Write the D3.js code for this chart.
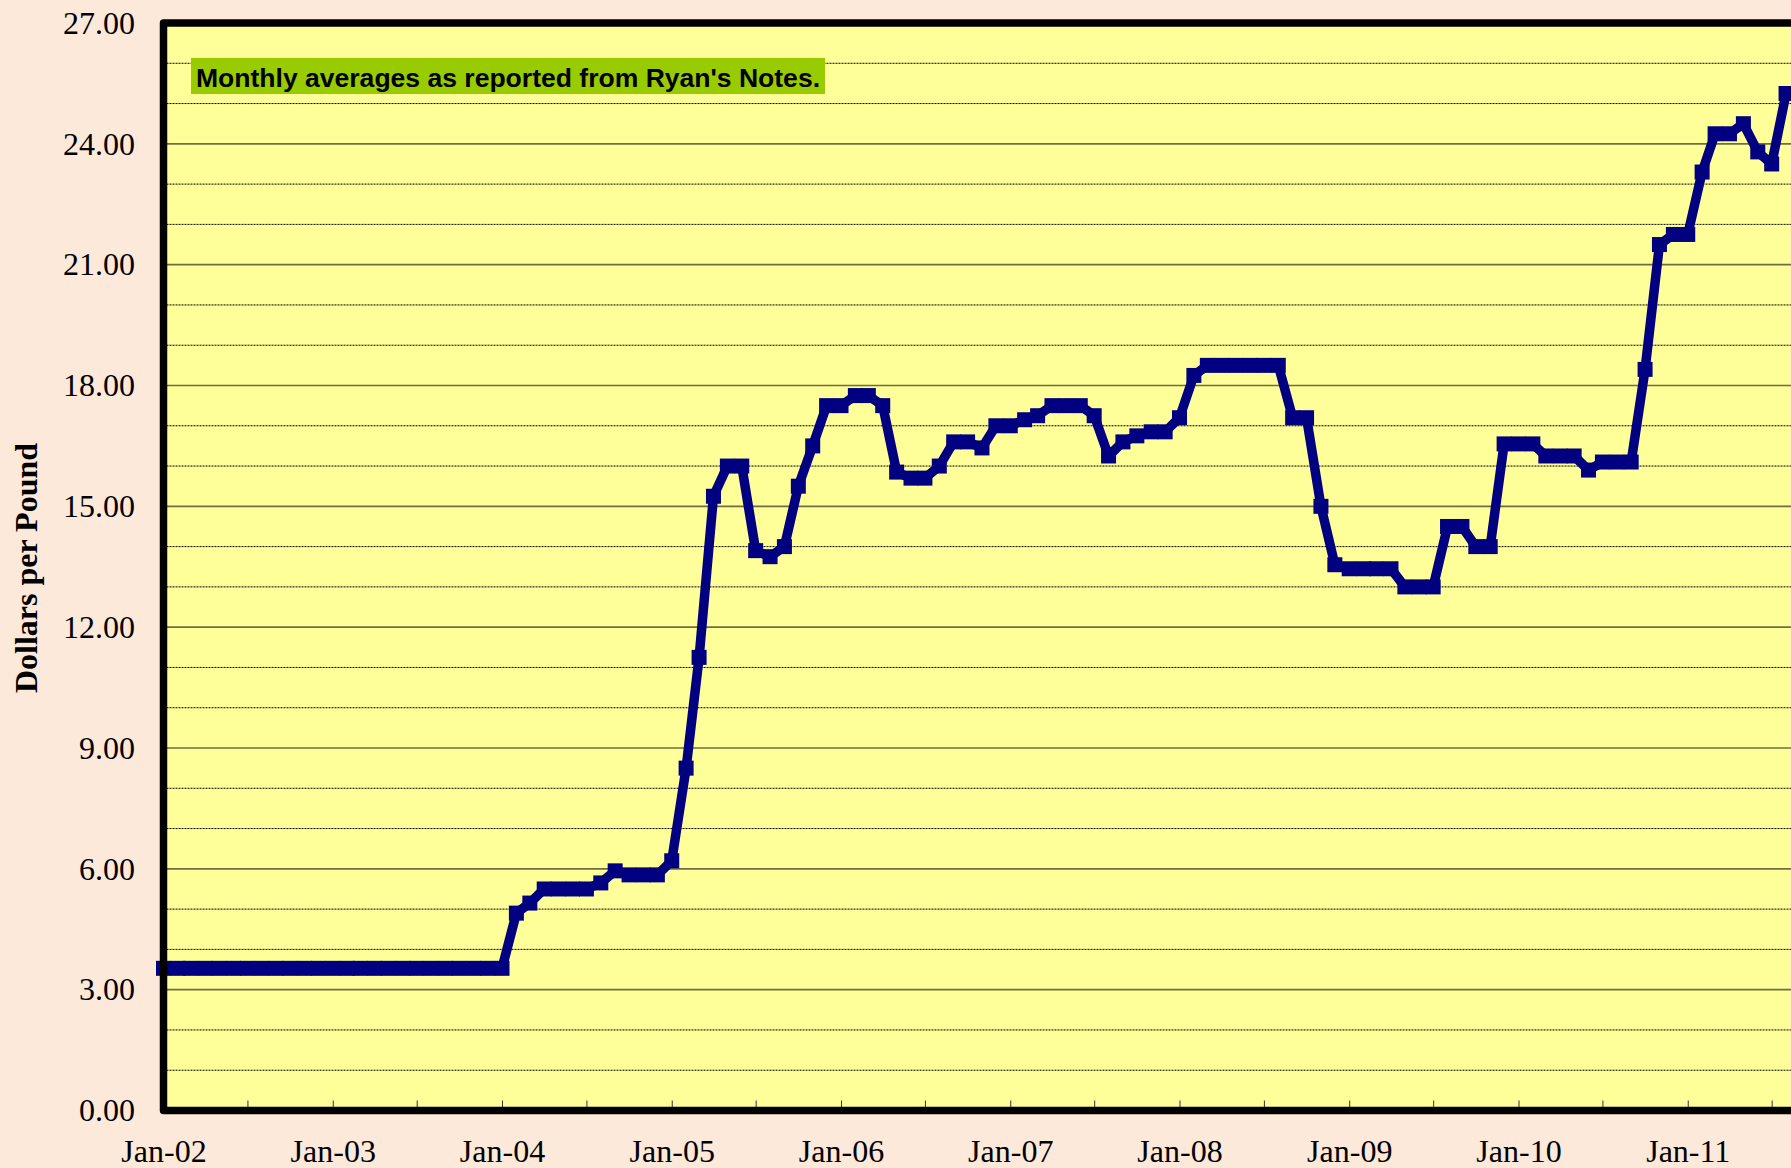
<!DOCTYPE html>
<html>
<head>
<meta charset="utf-8">
<script src="https://cdn.jsdelivr.net/npm/d3@7"></script>
<style>
  html, body { margin: 0; padding: 0; background: #FDE9D9; }
  svg { display: block; }
</style>
</head>
<body>
<div id="chart_div"></div>
<script>
// months (first of month), Jan-02 through Aug-11
var months = [
  "2002-01","2002-02","2002-03","2002-04","2002-05","2002-06","2002-07","2002-08","2002-09","2002-10","2002-11","2002-12",
  "2003-01","2003-02","2003-03","2003-04","2003-05","2003-06","2003-07","2003-08","2003-09","2003-10","2003-11","2003-12",
  "2004-01","2004-02","2004-03","2004-04","2004-05","2004-06","2004-07","2004-08","2004-09","2004-10","2004-11","2004-12",
  "2005-01","2005-02","2005-03","2005-04","2005-05","2005-06","2005-07","2005-08","2005-09","2005-10","2005-11","2005-12",
  "2006-01","2006-02","2006-03","2006-04","2006-05","2006-06","2006-07","2006-08","2006-09","2006-10","2006-11","2006-12",
  "2007-01","2007-02","2007-03","2007-04","2007-05","2007-06","2007-07","2007-08","2007-09","2007-10","2007-11","2007-12",
  "2008-01","2008-02","2008-03","2008-04","2008-05","2008-06","2008-07","2008-08","2008-09","2008-10","2008-11","2008-12",
  "2009-01","2009-02","2009-03","2009-04","2009-05","2009-06","2009-07","2009-08","2009-09","2009-10","2009-11","2009-12",
  "2010-01","2010-02","2010-03","2010-04","2010-05","2010-06","2010-07","2010-08","2010-09","2010-10","2010-11","2010-12",
  "2011-01","2011-02","2011-03","2011-04","2011-05","2011-06","2011-07","2011-08"
];

// dollars per pound, monthly averages
var prices = [
  3.53, 3.53, 3.53, 3.53, 3.53, 3.53, 3.53, 3.53, 3.53, 3.53, 3.53, 3.53,
  3.53, 3.53, 3.53, 3.53, 3.53, 3.53, 3.53, 3.53, 3.53, 3.53, 3.53, 3.53,
  3.53, 4.90, 5.15, 5.50, 5.50, 5.50, 5.50, 5.65, 5.95, 5.85, 5.85, 5.85,
  6.20, 8.50, 11.25, 15.25, 16.00, 16.00, 13.90, 13.75, 14.00, 15.50, 16.50, 17.50,
  17.50, 17.75, 17.75, 17.50, 15.85, 15.70, 15.70, 16.00, 16.60, 16.60, 16.45, 17.00,
  17.00, 17.15, 17.25, 17.50, 17.50, 17.50, 17.25, 16.25, 16.60, 16.75, 16.85, 16.85,
  17.20, 18.25, 18.50, 18.50, 18.50, 18.50, 18.50, 18.50, 17.20, 17.20, 15.00, 13.55,
  13.45, 13.45, 13.45, 13.45, 13.00, 13.00, 13.00, 14.50, 14.50, 14.00, 14.00, 16.55,
  16.55, 16.55, 16.25, 16.25, 16.25, 15.90, 16.10, 16.10, 16.10, 18.40, 21.50, 21.75,
  21.75, 23.30, 24.25, 24.25, 24.50, 23.80, 23.50, 25.25
];

// axis ticks
var yTicks = [0, 3, 6, 9, 12, 15, 18, 21, 24, 27];
var yMinor = [1, 2, 4, 5, 7, 8, 10, 11, 13, 14, 16, 17, 19, 20, 22, 23, 25, 26];
var xLabels = ["2002-01","2003-01","2004-01","2005-01","2006-01","2007-01","2008-01","2009-01","2010-01","2011-01"];
var xTicks = ["2002-07","2003-01","2003-07","2004-01","2004-07","2005-01","2005-07","2006-01","2006-07",
  "2007-01","2007-07","2008-01","2008-07","2009-01","2009-07","2010-01","2010-07","2011-01","2011-07"];
var note = "Monthly averages as reported from Ryan's Notes.";

var parseMonth = d3.timeParse("%Y-%m");
var data = months.map(function(m, i) { return {date: parseMonth(m), value: prices[i]}; });

var serif = "'Liberation Serif', 'Times New Roman', serif";
var sans = "'Liberation Sans', Arial, sans-serif";

// page size and plot frame (right side runs past the window, as in the original)
var W = 1791, H = 1168;
var plotL = 163.5, plotT = 23, plotB = 1110.5, plotR = 1857;

var svg = d3.select("#chart_div")
  .append("svg")
  .attr("width", W)
  .attr("height", H);

svg.append("rect")
  .attr("width", W).attr("height", H)
  .attr("fill", "#FDE9D9");

var x = d3.scaleTime()
  .domain([parseMonth("2002-01"), parseMonth("2012-01")])
  .range([plotL, plotR]);

var y = d3.scaleLinear()
  .domain([0, 27])
  .range([plotB, plotT]);

// plot background
svg.append("rect")
  .attr("x", plotL).attr("y", plotT)
  .attr("width", plotR - plotL).attr("height", plotB - plotT)
  .attr("fill", "#FFFF99");

// minor gridlines (dotted)
svg.append("g").selectAll("line")
  .data(yMinor)
  .enter()
  .append("line")
    .attr("x1", plotL).attr("x2", plotR)
    .attr("y1", function(d) { return y(d); })
    .attr("y2", function(d) { return y(d); })
    .attr("stroke", "#000")
    .attr("stroke-width", 1)
    .attr("stroke-dasharray", "2,1");

// major gridlines (solid)
svg.append("g").selectAll("line")
  .data(yTicks.slice(1, -1))
  .enter()
  .append("line")
    .attr("x1", plotL).attr("x2", plotR)
    .attr("y1", function(d) { return y(d); })
    .attr("y2", function(d) { return y(d); })
    .attr("stroke", "#6e6e45")
    .attr("stroke-width", 1.6);

// inner ticks on the bottom axis every six months
svg.append("g")
  .attr("transform", "translate(0," + plotB + ")")
  .call(d3.axisBottom(x).tickValues(xTicks.map(parseMonth)).tickSize(-10).tickFormat(""))
  .call(function(g) { g.select(".domain").remove(); })
  .selectAll("line").attr("stroke", "#333");

// x labels
svg.append("g")
  .attr("transform", "translate(0," + plotB + ")")
  .call(d3.axisBottom(x).tickValues(xLabels.map(parseMonth)).tickSize(0).tickPadding(28.5)
    .tickFormat(d3.timeFormat("%b-%y")))
  .call(function(g) { g.select(".domain").remove(); })
  .selectAll("text")
    .attr("fill", "#000")
    .style("font-family", serif)
    .style("font-size", "32px");

// y labels
svg.append("g")
  .attr("transform", "translate(" + plotL + ",0)")
  .call(d3.axisLeft(y).tickValues(yTicks).tickSize(0).tickPadding(28.5).tickFormat(d3.format(".2f")))
  .call(function(g) { g.select(".domain").remove(); })
  .selectAll("text")
    .attr("fill", "#000")
    .style("font-family", serif)
    .style("font-size", "32px");

// y axis title
svg.append("text")
  .attr("text-anchor", "middle")
  .attr("transform", "rotate(-90)")
  .attr("x", -568)
  .attr("y", 37)
  .style("font-family", serif)
  .style("font-size", "32px")
  .style("font-weight", "bold")
  .text("Dollars per Pound");

// the price line
var line = d3.line()
  .x(function(d) { return x(d.date); })
  .y(function(d) { return y(d.value); });

svg.append("path")
  .datum(data)
  .attr("d", line)
  .attr("fill", "none")
  .attr("stroke", "#000080")
  .attr("stroke-width", 9.5)
  .attr("stroke-linejoin", "round");

// square markers
svg.append("g").selectAll("rect")
  .data(data)
  .enter()
  .append("rect")
    .attr("x", function(d) { return x(d.date) - 7.5; })
    .attr("y", function(d) { return y(d.value) - 7.5; })
    .attr("width", 15)
    .attr("height", 15)
    .attr("fill", "#000080");

// plot frame
svg.append("rect")
  .attr("x", plotL).attr("y", plotT)
  .attr("width", plotR - plotL).attr("height", plotB - plotT)
  .attr("fill", "none")
  .attr("stroke", "#000")
  .attr("stroke-width", 7.5)
  .attr("stroke-linejoin", "round");

// note box (excel draws this text a little wide)
svg.append("rect")
  .attr("x", 191)
  .attr("y", 58)
  .attr("width", 634)
  .attr("height", 36)
  .attr("fill", "#99CC00");

svg.append("text")
  .attr("x", 196)
  .attr("y", 87)
  .attr("textLength", 624)
  .attr("lengthAdjust", "spacingAndGlyphs")
  .style("font-family", sans)
  .style("font-size", "25px")
  .style("font-weight", "bold")
  .attr("fill", "#000")
  .text(note);
</script>
</body>
</html>
